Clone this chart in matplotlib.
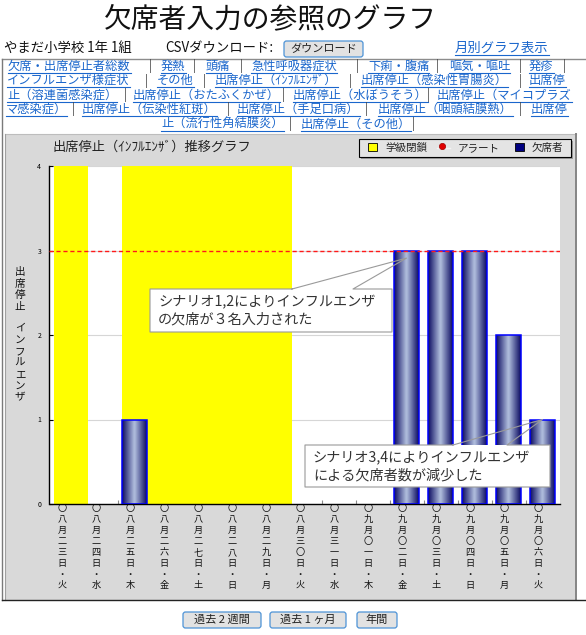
import numpy as np
import matplotlib
matplotlib.use("Agg")
import matplotlib.pyplot as plt
from matplotlib.patches import Rectangle, FancyBboxPatch
from matplotlib.colors import LinearSegmentedColormap

plt.rcParams['font.family'] = ['Noto Sans CJK JP', 'DejaVu Sans']

W, H = 586, 635

# --- data -------------------------------------------------------------
days = ['〇八月二三日・火', '〇八月二四日・水', '〇八月二五日・木', '〇八月二六日・金',
        '〇八月二七日・土', '〇八月二八日・日', '〇八月二九日・月', '〇八月三〇日・火',
        '〇八月三一日・水', '〇九月〇一日・木', '〇九月〇二日・金', '〇九月〇三日・土',
        '〇九月〇四日・日', '〇九月〇五日・月', '〇九月〇六日・火']
absent = [0, 0, 1, 0, 0, 0, 0, 0, 0, 0, 3, 3, 3, 2, 1]
closed = [1, 0, 1, 1, 1, 1, 1, 0, 0, 0, 0, 0, 0, 0, 0]
alert_level = 3
y_max = 4
y_ticks = [0, 1, 2, 3, 4]

page_title = '欠席者入力の参照のグラフ'
class_name = 'やまだ小学校 1年 1組'
chart_title = '出席停止（ｲﾝﾌﾙｴﾝｻﾞ）推移グラフ'
y_title_top = '出席停止'
y_title_bottom = 'インフルエンザ'
legend_labels = ['学級閉鎖', 'アラート', '欠席者']
buttons = ['過去 2 週間', '過去 1 ヶ月', '年間']

# link rows: (x, text) and the x of each "|" divider
link_rows = [
    [(8, '欠席・出席停止者総数'), (161, '発熱'), (206, '頭痛'), (251, '急性呼吸器症状'),
     (368, '下痢・腹痛'), (449, '嘔気・嘔吐'), (529, '発疹')],
    [(7, 'インフルエンザ様症状'), (157, 'その他'), (215, '出席停止（ｲﾝﾌﾙｴﾝｻﾞ）'),
     (361, '出席停止（感染性胃腸炎）'), (529, '出席停')],
    [(7, '止（溶連菌感染症）'), (133, '出席停止（おたふくかぜ）'), (293, '出席停止（水ぼうそう）'),
     (437, '出席停止（マイコプラズ')],
    [(6, 'マ感染症）'), (82, '出席停止（伝染性紅斑）'), (237, '出席停止（手足口病）'),
     (378, '出席停止（咽頭結膜熱）'), (531, '出席停')],
    [(161, '止（流行性角結膜炎）'), (301, '出席停止（その他）')],
]
link_dividers = [
    [150, 194, 241, 357, 437, 520, 564],
    [146, 204, 350, 520],
    [125, 283, 428],
    [73, 228, 366, 520],
    [290, 413],
]

notes = [
    ['シナリオ1,2によりインフルエンザ', 'の欠席が３名入力された'],
    ['シナリオ3,4によりインフルエンザ', 'による欠席者数が減少した'],
]
note_days = [10, 14]

LINK = '#1a66cc'

fig = plt.figure(figsize=(W / 100, H / 100), dpi=100)
fig.patch.set_facecolor('white')

# page layer in pixel coordinates (y downwards)
pg = fig.add_axes([0, 0, 1, 1], zorder=0)
pg.set_xlim(0, W)
pg.set_ylim(H, 0)
pg.axis('off')

# plot area
L, R, T, B = 49.5, 559.5, 166, 504
ax = fig.add_axes([L / W, 1 - B / H, (R - L) / W, (B - T) / H], zorder=1)

ov = fig.add_axes([0, 0, 1, 1], zorder=2)
ov.set_xlim(0, W)
ov.set_ylim(H, 0)
ov.axis('off')


def to_page(x, y):
    d = ax.transData.transform((x, y))
    return pg.transData.inverted().transform(d)


def button(x, y, w, h, label, fs=8):
    pg.add_patch(FancyBboxPatch((x, y), w, h, boxstyle='round,pad=0,rounding_size=2.5',
                                fc='#e2e2e2', ec='#4d93d6', lw=0.9))
    pg.text(x + w / 2, y + h / 2, label, ha='center', va='center', fontsize=fs, color='#222')


# --- header -----------------------------------------------------------
pg.text(270, 19, page_title, ha='center', va='center', fontsize=20, color='#111')
pg.text(4, 48, class_name, va='center', fontsize=9.6, color='#111')
pg.text(165, 48, 'CSVダウンロード:', va='center', fontsize=9.6, color='#111')
button(284, 41, 79, 16, 'ダウンロード', fs=8)
link_texts = [pg.text(455, 48, '月別グラフ表示', va='center', fontsize=9.6, color=LINK)]

row_y = [66, 80.5, 95, 109.5, 124]
for y, row, divs in zip(row_y, link_rows, link_dividers):
    for x, s in row:
        link_texts.append(pg.text(x, y, s, va='center', fontsize=8.8, color=LINK))
    for x in divs:
        pg.text(x, y, '|', ha='center', va='center', fontsize=8.8, color='#444')

# outer frame and chart panel
pg.plot([2, W], [59, 59], color='#8c8c8c', lw=1)
pg.plot([2, 2], [59, 600], color='#7a7a7a', lw=1)
pg.add_patch(Rectangle((5, 134), 571, 466, fc='#d9d9d9', ec='none'))
pg.plot([5, 576], [134, 134], color='#bdbdbd', lw=0.8)
pg.plot([5, 5], [134, 600], color='#a0a0a0', lw=0.8)
pg.plot([575.5, 575.5], [134, 600], color='#858585', lw=1.4)
pg.plot([2, W], [600, 600], color='#222222', lw=1)

pg.text(53, 147, chart_title, va='center', fontsize=9.5, color='#222')

# legend
pg.add_patch(Rectangle((361, 141), 212, 18, fc='#9a9a9a', ec='none'))
pg.add_patch(Rectangle((359, 139), 212, 18, fc='#e4e4e4', ec='black', lw=0.8))
pg.add_patch(Rectangle((368, 143), 9, 8, fc='#ffff00', ec='black', lw=0.6))
pg.text(385, 148, legend_labels[0], va='center', fontsize=7.6, color='#222')
pg.plot([437, 450], [148, 148], color='#f4f4f4', lw=1)
pg.plot(442, 146, 'o', ms=4.5, mfc='#e00000', mec='#a00000', mew=0.5)
pg.text(458, 148, legend_labels[1], va='center', fontsize=7.6, color='#222')
pg.add_patch(Rectangle((515, 143), 9, 8, fc='#000080', ec='black', lw=0.6))
pg.text(532, 148, legend_labels[2], va='center', fontsize=7.6, color='#222')

# --- chart ------------------------------------------------------------
x = np.arange(len(days))
ax.set_facecolor('white')
ax.bar(x + 0.13, [y_max * c for c in closed], width=1.0, color='#ffff00', zorder=1)

shade = 1 - np.abs(np.linspace(-1, 1, 64))
cmap = LinearSegmentedColormap.from_list('tube', ['#0c0c62', '#b0bedd'])
bars = ax.bar(x, absent, width=0.735, color='none', edgecolor='#0000ff', linewidth=1.1, zorder=3)
for b in bars:
    if b.get_height() <= 0:
        b.set_visible(False)
        continue
    x0, w, h = b.get_x(), b.get_width(), b.get_height()
    im = ax.imshow(shade[None, :], cmap=cmap, extent=(x0, x0 + w, 0, h), aspect='auto',
                   interpolation='bicubic', zorder=2.5)
    im.set_clip_path(b)

ax.axhline(alert_level, color='#ff1a1a', lw=1.0, ls=(0, (3, 2)), zorder=4)

ax.set_xlim(-0.5, len(days) - 0.5)
ax.set_ylim(0, y_max)
ax.set_yticks(y_ticks)
ax.set_yticklabels([str(v) for v in y_ticks])
ax.yaxis.grid(True, color='#d6d6d6', lw=0.8)
ax.set_axisbelow(True)
ax.tick_params(axis='y', direction='in', length=3, width=0.8, labelsize=5, pad=6, colors='black')
ax.set_xticks(x)
ax.set_xticklabels([])
ax.tick_params(axis='x', length=0)
ax.set_xticks(x[:-1] + 0.5, minor=True)
ax.tick_params(axis='x', which='minor', direction='in', length=3, width=0.8, color='#8a8a8a')
for side in ('top', 'right'):
    ax.spines[side].set_visible(False)
for side in ('left', 'bottom'):
    ax.spines[side].set_color('black')
    ax.spines[side].set_linewidth(1)

# vertical date labels, one glyph per line
for k, label in enumerate(days):
    px, _ = to_page(k, 0)
    for i, ch in enumerate(label):
        pg.text(px - 4.5, 508 + i * 11.1, ch, ha='center', va='center', fontsize=6.6, color='#111')

# vertical axis title
for i, ch in enumerate(y_title_top):
    pg.text(20, 272 + i * 11.5, ch, ha='center', va='center', fontsize=7.6, color='#111')
for i, ch in enumerate(y_title_bottom):
    pg.text(20, 328 + i * 11.5, ch, ha='center', va='center', fontsize=7.6, color='#111')

# --- callouts ---------------------------------------------------------
note_boxes = [(150, 289, 392, 332), (305, 445, 550, 487)]
note_bases = [(292, 353), (453, 507)]
note_drop = [0.09, 0.0]
for lines, day, (x0, y0, x1, y1), (b0, b1), drop in zip(notes, note_days, note_boxes,
                                                         note_bases, note_drop):
    tx, ty = to_page(day, absent[day] - drop)
    ov.add_patch(Rectangle((x0, y0), x1 - x0, y1 - y0, fc='white', ec='none'))
    ov.plot([b0, tx, b1, x1, x1, x0, x0, b0], [y0, ty, y0, y0, y1, y1, y0, y0],
            color='#9a9a9a', lw=0.8)
    for i, s in enumerate(lines):
        ov.text(x0 + 8, y0 + 13 + i * 17.5, s, va='center', fontsize=10.2, color='#333')

# --- bottom buttons ---------------------------------------------------
for (bx, bw), label in zip([(183, 78), (270, 76), (357, 40)], buttons):
    button(bx, 612, bw, 16, label)

# underline the links
fig.canvas.draw()
inv = pg.transData.inverted()
for t in link_texts:
    bb = t.get_window_extent()
    xa, _ = inv.transform((bb.x0, bb.y0))
    xb, _ = inv.transform((bb.x1, bb.y0))
    yc = t.get_position()[1]
    pg.plot([xa, xb], [yc + 6.5, yc + 6.5], color=LINK, lw=0.8)

fig.savefig('out.png', dpi=100)
